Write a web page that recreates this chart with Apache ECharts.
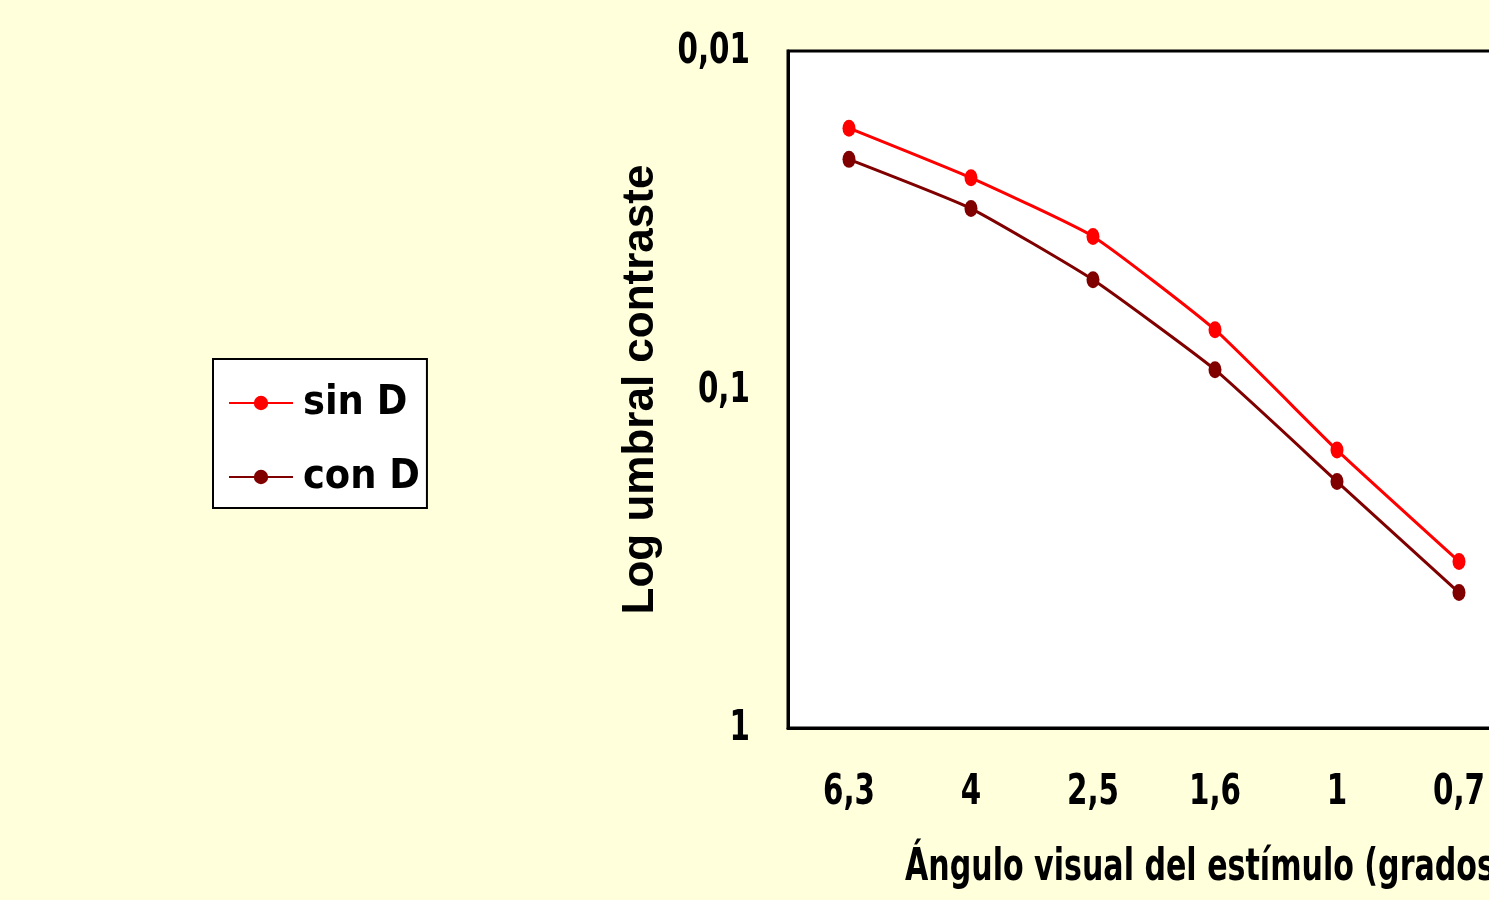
<!DOCTYPE html>
<html>
<head>
<meta charset="utf-8">
<script src="https://cdn.jsdelivr.net/npm/echarts@6/dist/echarts.min.js"></script>
<style>
html,body{margin:0;padding:0;background:#FFFFDC;}
#chart{width:1489px;height:900px;}
</style>
</head>
<body>
<div id="chart"></div>
<script>
const categories = ['6,3', '4', '2,5', '1,6', '1', '0,7'];
const sinD = [0.0169, 0.0237, 0.0353, 0.0666, 0.151, 0.322];
const conD = [0.0209, 0.0292, 0.0474, 0.0874, 0.187, 0.398];
const seriesNames = ['sin D', 'con D'];
const yTickValues = [0.01, 0.1, 1];
const yTickLabels = ['0,01', '0,1', '1'];
const yTitle = 'Log umbral contraste';
const xTitle = 'Ángulo visual del estímulo (grados)';

const narrow = "'Liberation Sans Narrow', 'Arial Narrow', 'DejaVu Sans Condensed', sans-serif";
const wide = "'Liberation Sans', Arial, sans-serif";
const narrowFont = "bold 43px " + narrow;
const titleFont = "bold 44px " + narrow;
const squeeze = 0.76;

const chart = echarts.init(document.getElementById('chart'));
chart.setOption({
  backgroundColor: '#FFFFDC',
  animation: false,
  legend: {
    orient: 'vertical',
    left: 213,
    top: 359,
    padding: [19, 7, 6, 15],
    itemGap: 24,
    itemWidth: 64,
    itemHeight: 18,
    backgroundColor: '#FFFFFF',
    borderColor: '#000',
    borderWidth: 2,
    borderRadius: 0,
    textStyle: { fontFamily: narrow, fontWeight: 'bold', fontSize: 41, color: '#000', lineHeight: 50, padding: [0, 0, 0, 5] },
    data: seriesNames
  },
  grid: {
    left: 788,
    top: 51,
    width: 732,
    height: 677,
    outerBoundsMode: 'none',
    containLabel: false,
    show: true,
    backgroundColor: '#FFFFFF',
    borderColor: '#000',
    borderWidth: 3
  },
  xAxis: {
    type: 'category',
    data: categories,
    boundaryGap: true,
    axisLine: { show: true, lineStyle: { color: '#000', width: 3 } },
    axisTick: { show: false },
    axisLabel: { show: false },
    splitLine: { show: false }
  },
  yAxis: {
    type: 'log',
    logBase: 10,
    min: 0.01,
    max: 1,
    inverse: true,
    axisLine: { show: true, lineStyle: { color: '#000', width: 3 } },
    axisTick: { show: false },
    splitLine: { show: false },
    axisLabel: { show: false },
    name: yTitle,
    nameLocation: 'middle',
    nameRotate: 90,
    nameGap: 125,
    nameTextStyle: { fontFamily: wide, fontWeight: 'bold', fontSize: 44, color: '#000' }
  },
  series: [
    {
      name: seriesNames[0], type: 'line', data: sinD, smooth: 0.15,
      symbol: 'circle', symbolSize: [13, 17],
      lineStyle: { color: '#FF0000', width: 3 },
      itemStyle: { color: '#FF0000' }
    },
    {
      name: seriesNames[1], type: 'line', data: conD, smooth: 0.15,
      symbol: 'circle', symbolSize: [13, 17],
      lineStyle: { color: '#800000', width: 3 },
      itemStyle: { color: '#800000' }
    }
  ]
});

// Narrow bold labels (Arial Narrow look): positions come from the chart's own axes.
const axisBottom = chart.convertToPixel({ yAxisIndex: 0 }, 1);
const graphics = [];
categories.forEach((c, i) => {
  const px = chart.convertToPixel({ xAxisIndex: 0 }, i);
  graphics.push({
    type: 'text', x: px, y: axisBottom + 65, scaleX: squeeze,
    style: { text: c, font: narrowFont, fill: '#000', align: 'center', verticalAlign: 'middle' }
  });
});
yTickValues.forEach((v, i) => {
  const py = chart.convertToPixel({ yAxisIndex: 0 }, v);
  graphics.push({
    type: 'text', x: 750, y: py + 1, scaleX: squeeze,
    style: { text: yTickLabels[i], font: narrowFont, fill: '#000', align: 'right', verticalAlign: 'middle' }
  });
});
graphics.push({
  type: 'text', x: 905, y: axisBottom + 141, scaleX: squeeze,
  style: { text: xTitle, font: titleFont, fill: '#000', align: 'left', verticalAlign: 'middle' }
});
chart.setOption({ graphic: graphics });
</script>
</body>
</html>
